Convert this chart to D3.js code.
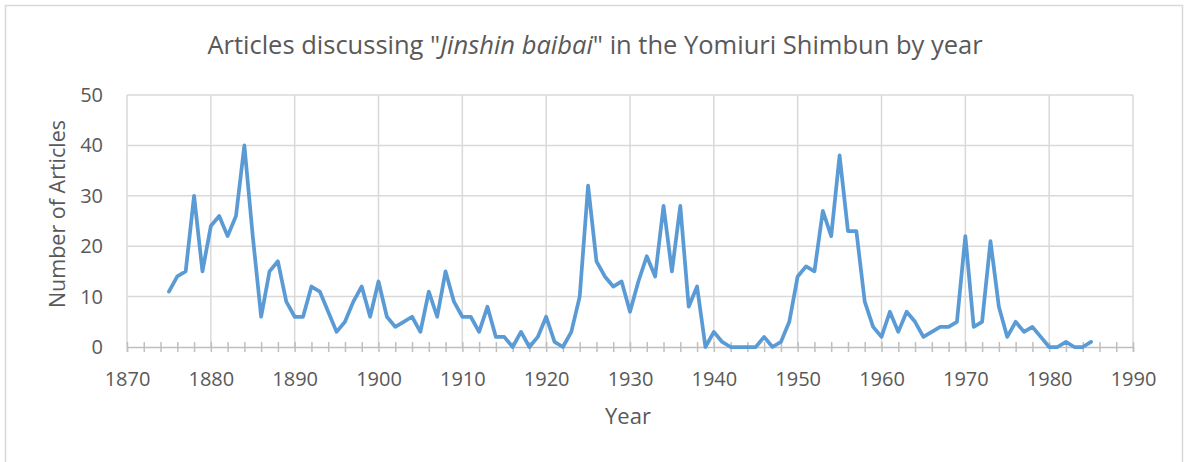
<!DOCTYPE html>
<html>
<head>
<meta charset="utf-8">
<script src="https://cdn.jsdelivr.net/npm/d3@7"></script>
<style>
	body { margin:0; background:#fff; }
	text { font-family:"Open Sans", sans-serif; fill:#595959; }
</style>
</head>
<body>
<div class="g-chart-container-line"></div>
<script>
function articlesChart() {
	var W = 1186, H = 462;
	var margin = {top:95,left:127,right:53,bottom:115};

	var chartContainer = d3.select(".g-chart-container-line").html("");

	var w = W - margin.left - margin.right,
		h = H - margin.top - margin.bottom;

	var root = chartContainer
		.append("svg")
		.attr("width", W)
		.attr("height", H);

	// chart frame
	root.append("rect")
		.attr("x",5.5).attr("y",5.5)
		.attr("width",1177).attr("height",470)
		.attr("fill","none")
		.attr("stroke","#d9d9d9")
		.attr("stroke-width",1.5);

	var svg = root.append("g")
		.attr("transform","translate("+ margin.left +"," + margin.top +")");

	// articles per year, starting 1875
	var counts = [
		11,14,15,30,15, 24,26,22,26,40, 22,6,15,17,9,
		6,6,12,11,7, 3,5,9,12,6,
		13,6,4,5,6, 3,11,6,15,9,
		6,6,3,8,2, 2,0,3,0,2,
		6,1,0,3,10, 32,17,14,12,13,
		7,13,18,14,28, 15,28,8,12,0,
		3,1,0,0,0, 0,2,0,1,5,
		14,16,15,27,22, 38,23,23,9,4,
		2,7,3,7,5, 2,3,4,4,5,
		22,4,5,21,8, 2,5,3,4,2,
		0,0,1,0,0, 1
	];
	var data = counts.map(function(d, i){ return {year:1875 + i, n:d}; });

	var x = d3.scaleLinear().domain([1870,1990]).range([0,w]);
	var y = d3.scaleLinear().domain([0,50]).range([h,0]);

	// gridlines
	svg.selectAll(".hgrid")
		.data(d3.range(10,51,10))
		.enter().append("line")
		.attr("class","hgrid")
		.attr("x1",0).attr("x2",w)
		.attr("y1",function(d){ return y(d); })
		.attr("y2",function(d){ return y(d); })
		.attr("stroke","#d9d9d9").attr("stroke-width",1.5);

	svg.selectAll(".vgrid")
		.data(d3.range(1870,1991,10))
		.enter().append("line")
		.attr("class","vgrid")
		.attr("x1",function(d){ return x(d); })
		.attr("x2",function(d){ return x(d); })
		.attr("y1",0).attr("y2",h)
		.attr("stroke","#d9d9d9").attr("stroke-width",1.5);

	// x axis, ticks every 2 years, labels every 10
	var xAxis = svg.append("g")
		.attr("transform","translate(0," + h + ")")
		.call(d3.axisBottom(x)
			.tickValues(d3.range(1870,1991,2))
			.tickSize(5)
			.tickFormat(function(d){ return d % 10 === 0 ? d : ""; }));
	xAxis.select(".domain").attr("stroke","#bfbfbf").attr("stroke-width",1.5);
	xAxis.selectAll(".tick line").attr("y1",-5).attr("stroke","#bfbfbf").attr("stroke-width",1.5);
	xAxis.selectAll(".tick text")
		.attr("y",25)
		.style("font-size","20px")
		.style("font-family","'Open Sans', sans-serif")
		.attr("fill","#595959");

	// y axis labels
	var yAxis = svg.append("g")
		.call(d3.axisLeft(y).tickValues(d3.range(0,51,10)).tickSize(0).tickPadding(24));
	yAxis.select(".domain").remove();
	yAxis.selectAll(".tick text")
		.style("font-size","20px")
		.style("font-family","'Open Sans', sans-serif")
		.attr("fill","#595959");

	// the line
	var line = d3.line()
		.x(function(d){ return x(d.year); })
		.y(function(d){ return y(d.n); });

	svg.append("path")
		.datum(data)
		.attr("d", line)
		.attr("fill","none")
		.attr("stroke","#5b9bd5")
		.attr("stroke-width",3.75)
		.attr("stroke-linejoin","round")
		.attr("stroke-linecap","round");

	// titles
	var title = root.append("text")
		.attr("x",595).attr("y",54)
		.attr("text-anchor","middle")
		.style("font-size","25.5px");
	title.append("tspan").text("Articles discussing \"");
	title.append("tspan").style("font-style","italic").text("Jinshin baibai");
	title.append("tspan").text("\" in the Yomiuri Shimbun by year");

	root.append("text")
		.attr("x",628).attr("y",424)
		.attr("text-anchor","middle")
		.style("font-size","22px")
		.text("Year");

	root.append("text")
		.attr("transform","translate(65,214) rotate(-90)")
		.attr("text-anchor","middle")
		.style("font-size","21.5px")
		.text("Number of Articles");
}
articlesChart();
</script>
</body>
</html>
